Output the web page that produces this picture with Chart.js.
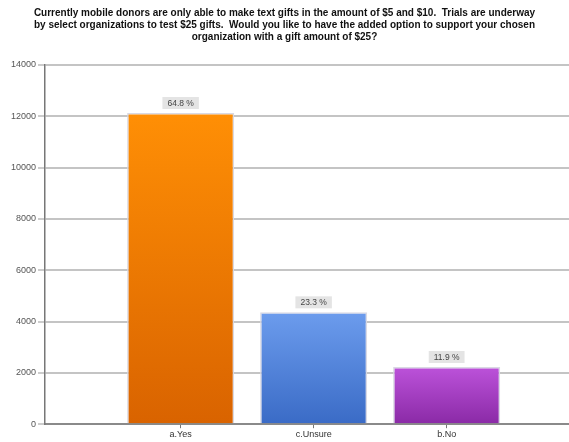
<!DOCTYPE html>
<html>
<head>
<meta charset="utf-8">
<script src="https://cdn.jsdelivr.net/npm/chart.js@4"></script>
<style>
  html,body{margin:0;padding:0;background:#fff;}
  #wrap{width:569px;height:442px;}
</style>
</head>
<body>
<div id="wrap"><canvas id="chart"></canvas></div>
<script>
// DATA
const titleLines=[
  "Currently mobile donors are only able to make text gifts in the amount of $5 and $10.  Trials are underway",
  "by select organizations to test $25 gifts.  Would you like to have the added option to support your chosen",
  "organization with a gift amount of $25?"
];
const categories=["a.Yes","c.Unsure","b.No"];
const counts=[12130,4360,2230];
const percents=["64.8 %","23.3 %","11.9 %"];
const yTicks=[0,2000,4000,6000,8000,10000,12000,14000];

// colours (top, bottom)
const barColors=[["#ff8f05","#d96300"],["#6c9ced","#3a6bc6"],["#bc52da","#8a2aa6"]];

function barGradient(ctx){
  const chart=ctx.chart, i=ctx.dataIndex;
  const ys=chart.scales.y;
  if(!ys || !chart.chartArea) return barColors[i][0];
  const top=ys.getPixelForValue(counts[i]), bot=ys.getPixelForValue(0);
  const g=chart.ctx.createLinearGradient(0,top,0,bot);
  g.addColorStop(0,barColors[i][0]);
  g.addColorStop(1,barColors[i][1]);
  return g;
}

// LABEL BOXES
const pctLabels={
  id:"pctLabels",
  afterDatasetsDraw(chart){
    const c=chart.ctx;
    chart.getDatasetMeta(0).data.forEach((bar,i)=>{
      c.save();
      c.font="8.5px 'Liberation Sans', Arial, sans-serif";
      const w=c.measureText(percents[i]).width+10, h=12;
      const x=bar.x, y=bar.y-10;
      c.fillStyle="#e4e4e4";
      c.fillRect(x-w/2,y-h/2,w,h);
      c.fillStyle="#444";
      c.textAlign="center"; c.textBaseline="middle";
      c.fillText(percents[i],x,y+0.5);
      c.restore();
    });
  }
};

new Chart(document.getElementById("chart"),{
  type:"bar",
  data:{
    datasets:[{
      data:categories.map((c,i)=>({x:i+1,y:counts[i]})),
      backgroundColor:barGradient,
      borderColor:"rgba(215,215,225,0.95)",
      borderWidth:1.5,
      categoryPercentage:1,
      barPercentage:0.805
    }]
  },
  options:{
    responsive:true,
    maintainAspectRatio:false,
    animation:false,
    layout:{padding:{left:0,right:0,top:7,bottom:1}},
    plugins:{
      legend:{display:false},
      tooltip:{enabled:false},
      title:{
        display:true,
        text:titleLines,
        color:"#111",
        font:{family:"'Liberation Sans', Arial, sans-serif",size:10,weight:"bold",lineHeight:1.2},
        padding:{top:0,bottom:22}
      }
    },
    scales:{
      x:{
        type:"linear",
        offset:false,
        min:-0.02,max:3.92,
        afterBuildTicks(axis){axis.ticks=categories.map((c,i)=>({value:i+1}));},
        ticks:{
          callback:v=>categories[v-1]||"",
          color:"#333",
          font:{family:"'Liberation Sans', Arial, sans-serif",size:9},
          padding:1,maxRotation:0,autoSkip:false
        },
        grid:{offset:false,drawOnChartArea:false,drawTicks:true,tickLength:4,color:"#777",lineWidth:1},
        border:{display:true,color:"#8a8a8a",width:2}
      },
      y:{
        min:0,max:14000,
        afterBuildTicks(axis){axis.ticks=yTicks.map(v=>({value:v}));},
        afterFit(axis){axis.width=45;},
        ticks:{
          callback:v=>String(v),
          color:"#555",
          font:{family:"'Liberation Sans', Arial, sans-serif",size:9},
          padding:2
        },
        grid:{
          color:ctx=>ctx.tick&&ctx.tick.value===0?"#8a8a8a":"#c4c4c4",
          lineWidth:2,
          tickLength:7,
          tickColor:"#999",
          tickWidth:1
        },
        border:{display:true,color:"#777",width:1.5}
      }
    }
  },
  plugins:[pctLabels]
});
</script>
</body>
</html>
